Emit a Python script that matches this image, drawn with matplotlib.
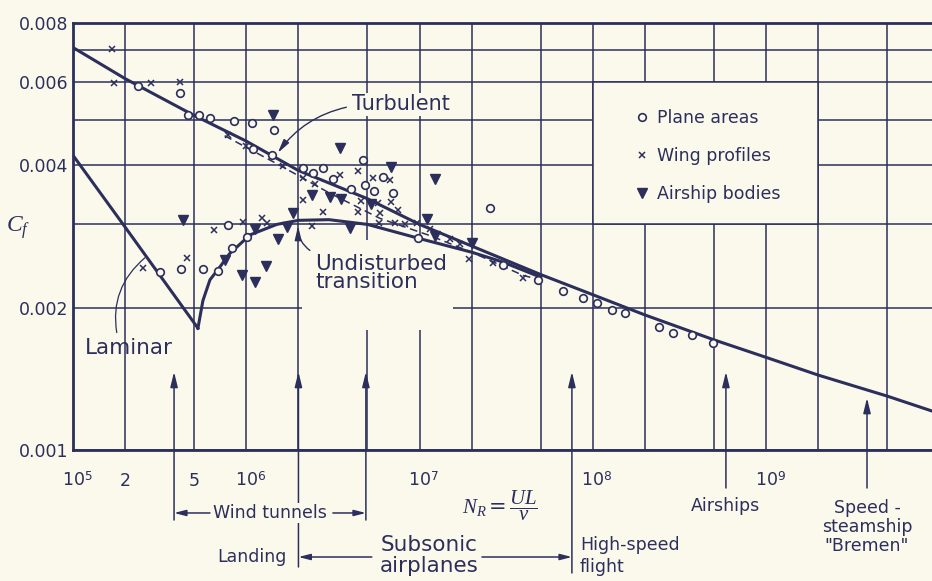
import matplotlib.pyplot as plt
import matplotlib.transforms as mtransforms
from matplotlib.patches import Rectangle
from matplotlib.ticker import NullLocator

plt.rcParams['font.family'] = 'DejaVu Sans'
plt.rcParams['mathtext.fontset'] = 'custom'
plt.rcParams['mathtext.rm'] = 'DejaVu Sans'
plt.rcParams['mathtext.it'] = 'Liberation Serif:italic'
plt.rcParams['mathtext.bf'] = 'DejaVu Sans:bold'

INK = '#2c2f5b'
PAPER = '#fbf9ec'

# curves
turb_re = [1e5, 2e5, 5e5, 1e6, 2e6, 5e6, 1e7, 2e7, 5e7, 1e8, 2e8, 5e8, 1e9, 2e9, 5e9, 9e9]
turb_cf = [0.0071, 0.0061, 0.0051, 0.0045, 0.0039, 0.0034, 0.0030, 0.0027, 0.00235,
           0.00213, 0.00193, 0.00171, 0.00157, 0.00144, 0.0013, 0.00121]

lam_re = [1e5, 2e5, 5.26e5]
lam_cf = [0.0042, 0.00296, 0.00181]

trans_re = [5.26e5, 5.62e5, 6.17e5, 7.05e5, 8e5, 1.05e6, 1.5e6, 2e6, 3e6, 5e6, 1e7, 2e7, 3e7, 5e7]
trans_cf = [0.00181, 0.00207, 0.00229, 0.00244, 0.0026, 0.00285, 0.003, 0.00306, 0.00307,
            0.003, 0.0028, 0.00262, 0.0025, 0.00232]

wing_fit_re = [7.5e5, 1.6e6, 3e6, 5.9e6, 1.15e7, 2e7, 3.96e7, 5e7]
wing_fit_cf = [0.00462, 0.00398, 0.0035, 0.00309, 0.00284, 0.00262, 0.00234, 0.00229]

# measurements
plane_re = [2.37e5, 4.14e5, 4.6e5, 5.33e5, 6.17e5, 8.5e5, 1.08e6, 1.45e6, 1.09e6, 1.41e6,
            2.12e6, 2.43e6, 2.77e6, 3.16e6, 4.02e6, 4.71e6, 4.84e6, 5.46e6, 6.15e6, 7.03e6,
            9.8e6, 7.84e5, 8.26e5, 1.01e6, 6.87e5, 5.62e5, 4.2e5, 3.18e5, 2.55e7, 3.03e7,
            4.82e7, 6.72e7, 8.77e7, 1.06e8, 1.29e8, 1.53e8, 2.41e8, 2.9e8, 3.73e8, 4.93e8]
plane_cf = [5.88e-3, 5.69e-3, 5.11e-3, 5.11e-3, 5.03e-3, 4.96e-3, 4.91e-3, 4.75e-3, 4.33e-3, 4.2e-3,
            3.95e-3, 3.85e-3, 3.95e-3, 3.74e-3, 3.56e-3, 4.1e-3, 3.63e-3, 3.53e-3, 3.78e-3, 3.49e-3,
            2.81e-3, 2.99e-3, 2.67e-3, 2.82e-3, 2.39e-3, 2.41e-3, 2.41e-3, 2.38e-3, 3.25e-3, 2.46e-3,
            2.29e-3, 2.17e-3, 2.10e-3, 2.05e-3, 1.98e-3, 1.95e-3, 1.82e-3, 1.77e-3, 1.75e-3, 1.68e-3]

wing_re = [1.68e5, 1.72e5, 2.82e5, 4.14e5, 7.84e5, 9.96e5, 1.63e6, 2.12e6, 2.49e6, 2.12e6,
           2.77e6, 6.52e5, 9.57e5, 1.23e6, 2.39e6, 3.47e6, 4.41e6, 5.38e6, 6.75e6, 4.59e6,
           4.41e6, 5.75e6, 6.84e6, 7.5e6, 5.9e6, 5.83e6, 7.2e6, 8.24e6, 9.66e6, 1.32e6,
           4.55e5, 1.15e7, 1.5e7, 1.71e7, 1.93e7, 2.65e7, 3.96e7, 2.54e5]
wing_cf = [7.04e-3, 5.97e-3, 5.97e-3, 6.0e-3, 4.63e-3, 4.39e-3, 3.98e-3, 3.76e-3, 3.65e-3, 3.38e-3,
           3.18e-3, 2.92e-3, 3.03e-3, 3.09e-3, 2.98e-3, 3.81e-3, 3.89e-3, 3.76e-3, 3.72e-3, 3.36e-3,
           3.18e-3, 3.33e-3, 3.34e-3, 3.22e-3, 3.17e-3, 3.02e-3, 3.02e-3, 3.0e-3, 3.02e-3, 3.02e-3,
           2.55e-3, 2.93e-3, 2.79e-3, 2.73e-3, 2.53e-3, 2.49e-3, 2.31e-3, 2.43e-3]

airship_re = [1.43e6, 4.32e5, 2.39e6, 1.86e6, 1.12e6, 1.52e6, 1.72e6, 3.48e6, 6.84e6, 1.23e7,
              3.04e6, 3.52e6, 5.25e6, 1.1e7, 1.23e7, 2.0e7, 3.96e6, 7.54e5, 1.3e6, 9.44e5, 1.12e6]
airship_cf = [5.11e-3, 3.06e-3, 3.46e-3, 3.17e-3, 2.93e-3, 2.79e-3, 2.96e-3, 4.35e-3, 3.97e-3, 3.74e-3,
              3.43e-3, 3.39e-3, 3.31e-3, 3.08e-3, 2.83e-3, 2.74e-3, 2.95e-3, 2.52e-3, 2.45e-3, 2.34e-3, 2.27e-3]

x_grid = [1e5, 2e5, 5e5, 1e6, 2e6, 5e6, 1e7, 2e7, 5e7, 1e8, 2e8, 5e8, 1e9, 2e9, 5e9]
y_grid = [0.001, 0.002, 0.003, 0.004, 0.005, 0.006, 0.007, 0.008]
y_labels = ['0.001', '0.002', '', '0.004', '', '0.006', '', '0.008']
x_label_pos = [1e5, 2e5, 5e5, 1e6, 1e7, 1e8, 1e9]
x_label_txt = ['$10^{5}$', '2', '5', '$10^{6}$', '$10^{7}$', '$10^{8}$', '$10^{9}$']

fig = plt.figure(figsize=(9.32, 5.81), dpi=100, facecolor=PAPER)
ax = fig.add_axes([73 / 932, 1 - 450 / 581, 859 / 932, 427 / 581])
ax.set_facecolor(PAPER)
ax.set_xscale('log')
ax.set_yscale('log')
ax.set_xlim(1e5, 9.06e9)
ax.set_ylim(0.001, 0.008)

ax.set_xticks(x_grid)
ax.set_xticklabels([])
ax.set_yticks(y_grid, y_labels)
ax.xaxis.set_minor_locator(NullLocator())
ax.yaxis.set_minor_locator(NullLocator())
ax.tick_params(length=0)
ax.tick_params(axis='y', pad=3.6, labelsize=12.5, labelcolor=INK)
ax.set_axisbelow(True)
ax.grid(True, color=INK, lw=1.1)
for s in ['left', 'bottom', 'top']:
    ax.spines[s].set_color(INK)
    ax.spines[s].set_linewidth(2)
ax.spines['right'].set_visible(False)

# x tick labels, drawn by hand so their baselines line up
xt = ax.get_xaxis_transform()
for v, lab in zip(x_label_pos, x_label_txt):
    tr = xt
    if lab.startswith('$'):
        tr = mtransforms.offset_copy(xt, fig=fig, x=4, y=0, units='dots')
    ax.text(v, -0.084, lab, transform=tr, ha='center', va='baseline', fontsize=12.5, color=INK)

# legend box and blank patch under the transition label
ax.add_patch(Rectangle((1e8, 0.003), 2e9 - 1e8, 0.003, fc=PAPER, ec=INK, lw=1.1, zorder=1))
ax.add_patch(Rectangle((2.1e6, 0.00179), 1.56e7 - 2.1e6, 0.00278 - 0.00179, fc=PAPER, ec='none', zorder=1))

ax.plot(turb_re, turb_cf, color=INK, lw=2.2, zorder=2)
ax.plot(lam_re, lam_cf, color=INK, lw=2.2, zorder=2)
ax.plot(trans_re, trans_cf, color=INK, lw=2.2, zorder=2)
ax.plot(wing_fit_re, wing_fit_cf, color=INK, lw=1.1, dashes=(5, 3), zorder=2)

ax.plot(plane_re, plane_cf, 'o', ls='none', ms=5.5, mfc=PAPER, mec=INK, mew=1.2, zorder=4,
        label='Plane areas')
ax.plot(wing_re, wing_cf, 'x', ls='none', ms=5, mec=INK, mew=1.1, zorder=4, label='Wing profiles')
ax.plot(airship_re, airship_cf, 'v', ls='none', ms=7.5, color=INK, zorder=4, label='Airship bodies')

ax.legend(loc='upper left', bbox_to_anchor=(0.6566, 0.7986), frameon=False, fontsize=12.5,
          handlelength=0.6, handletextpad=0.55, labelspacing=1.15, borderpad=0, borderaxespad=0,
          labelcolor=INK)

head = '-|>,head_length=0.55,head_width=0.13'
ax.annotate('Turbulent', xy=(1.52e6, 4.25e-3), xytext=(4.07e6, 5.39e-3), ha='left', va='center',
            fontsize=15, color=INK, zorder=3, bbox=dict(fc=PAPER, ec='none', pad=1),
            arrowprops=dict(arrowstyle=head, connectionstyle='arc3,rad=0.2', color=INK, lw=1,
                            shrinkA=3, shrinkB=0, relpos=(0, 0.4)))
ax.annotate('Undisturbed\ntransition', xy=(1.99e6, 2.98e-3), xytext=(2.49e6, 2.37e-3), ha='left',
            va='center', fontsize=15.5, color=INK, linespacing=0.9, zorder=3,
            arrowprops=dict(arrowstyle=head, connectionstyle='arc3,rad=-0.3', color=INK, lw=1,
                            shrinkA=2, shrinkB=0, relpos=(0, 1)))
ax.annotate('Laminar', xy=(2.6e5, 2.55e-3), xytext=(1.17e5, 1.643e-3), ha='left', va='center',
            fontsize=15.5, color=INK, zorder=3,
            arrowprops=dict(arrowstyle='-', connectionstyle='arc3,rad=-0.3', color=INK, lw=0.9,
                            shrinkA=2, shrinkB=0, relpos=(0.375, 1)))

# arrows coming up from under the axis
arrow_x = [3.83e5, 2e6, 4.9e6, 7.57e7, 5.86e8, 3.82e9]
arrow_tip = [0.183, 0.183, 0.183, 0.183, 0.183, 0.122]
arrow_tail = [-0.164, -0.274, -0.164, -0.288, -0.089, -0.089]
for x, t0, t1 in zip(arrow_x, arrow_tip, arrow_tail):
    ax.annotate('', xy=(x, t0), xytext=(x, t1), xycoords=xt, textcoords=xt, annotation_clip=False,
                arrowprops=dict(arrowstyle='-|>,head_length=0.9,head_width=0.22', color=INK, lw=1.1,
                                shrinkA=0, shrinkB=0))

small = dict(arrowstyle='-|>,head_length=0.7,head_width=0.18', color=INK, lw=1.1, shrinkA=0, shrinkB=0)
ax.annotate('', xy=(3.83e5, -0.1475), xytext=(6.17e5, -0.1475), xycoords=xt, textcoords=xt,
            annotation_clip=False, arrowprops=small)
ax.annotate('', xy=(4.9e6, -0.1475), xytext=(3.16e6, -0.1475), xycoords=xt, textcoords=xt,
            annotation_clip=False, arrowprops=small)
ax.annotate('', xy=(2e6, -0.2506), xytext=(5.3e6, -0.2506), xycoords=xt, textcoords=xt,
            annotation_clip=False, arrowprops=small)
ax.annotate('', xy=(7.57e7, -0.2506), xytext=(2.29e7, -0.2506), xycoords=xt, textcoords=xt,
            annotation_clip=False, arrowprops=small)

ax.text(1.37e6, -0.1475, 'Wind tunnels', transform=xt, ha='center', va='center', fontsize=12.5,
        color=INK, zorder=5, bbox=dict(fc=PAPER, ec='none', pad=1))
ax.text(1.7e6, -0.2506, 'Landing', transform=xt, ha='right', va='center', fontsize=12.5, color=INK)
ax.text(1.13e7, -0.248, 'Subsonic\nairplanes', transform=xt, ha='center', va='center', fontsize=15.5,
        color=INK, linespacing=1.05)
ax.text(8.43e7, -0.248, 'High-speed\nflight', transform=xt, ha='left', va='center', fontsize=12.5,
        color=INK, linespacing=1.3)
ax.text(5.86e8, -0.131, 'Airships', transform=xt, ha='center', va='center', fontsize=12.5, color=INK)
ax.text(3.82e9, -0.180, 'Speed -\nsteamship\n"Bremen"', transform=xt, ha='center', va='center',
        fontsize=12.5, color=INK, linespacing=1.05)
ax.text(2.91e7, -0.131, r'$N_R = \dfrac{UL}{\nu}$', transform=xt, ha='center', va='center',
        fontsize=15, color=INK)

fig.text(18 / 932, 1 - 228 / 581, '$C_f$', fontsize=17, ha='center', va='center', color=INK)

fig.savefig('out.png', dpi=100, facecolor=PAPER)
